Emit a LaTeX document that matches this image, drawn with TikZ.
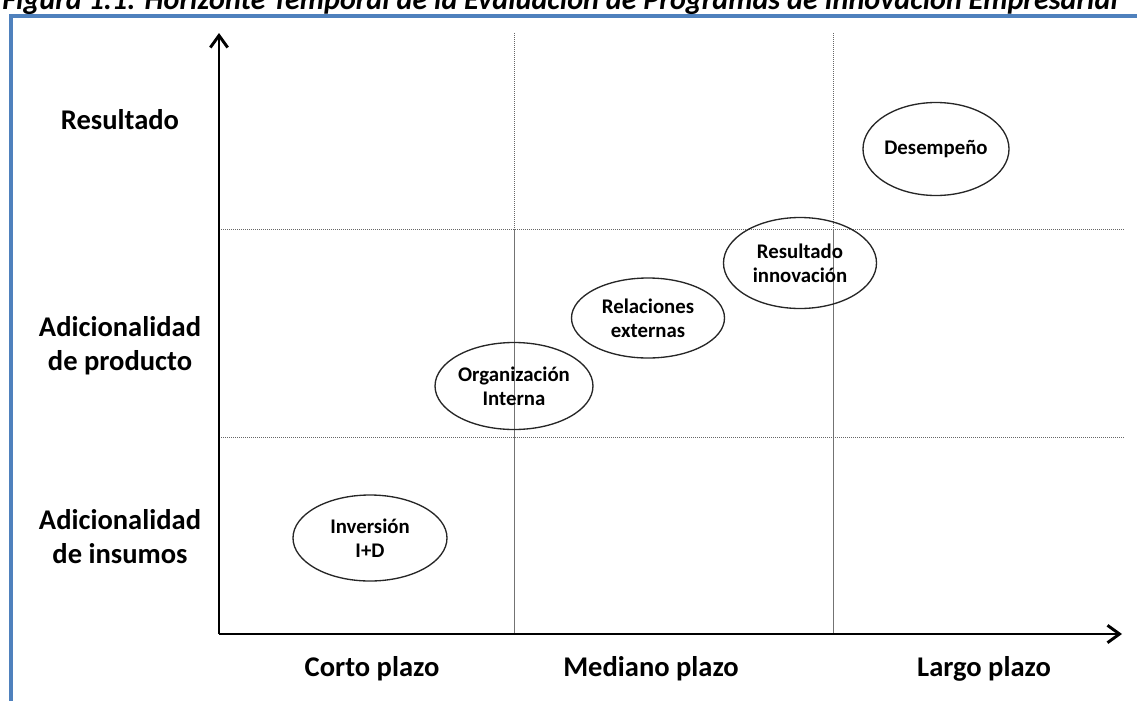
\documentclass[tikz,border=0pt]{standalone}
\usepackage{fontspec}
\setmainfont{Carlito}
\usetikzlibrary{arrows.meta,shapes.geometric}
\definecolor{marcoazul}{RGB}{79,129,189}
\tikzset{>=latex}
\tikzset{
  oval/.style = {draw = black!85, line width = 1pt, ellipse, inner sep = 0pt, align = center,
                 font = \fontsize{15.6}{18}\selectfont\bfseries},
  nivel/.style = {align = center, inner sep = 0pt, font = \fontsize{21.4}{25.5}\selectfont\bfseries},
  rejilla/.style = {line width = 0.75pt, black!55},
  punteada/.style = {line width = 0.75pt, black!60, dash pattern = on 0.75pt off 0.75pt},
  eje/.style = {line width = 2.2pt, -{Straight Barb[length = 9pt, width = 13pt]}}
}

\begin{document}
\begin{tikzpicture}[x = 0.75pt, y = -0.75pt]
\useasboundingbox (0,0) rectangle (1137,700);
% marco y titulo
\draw[line width = 3pt, marcoazul] (10.5,16) rectangle (1160,720);
\node[anchor = base west, inner sep = 0pt, font = \fontsize{22.6}{26}\selectfont\bfseries\itshape] (titulo) at (2,9)
  {Figura 1.1: Horizonte Temporal de la Evaluaci\'on de Programas de Innovaci\'on Empresarial};
% rejilla
\foreach \x in {514,833} {
  \draw[punteada] (\x,33) -- (\x,229);
  \draw[rejilla] (\x,229) -- (\x,634);
}
\foreach \y in {229,437}
  \draw[punteada] (219,\y) -- (1125,\y);
% ejes
\coordinate (origen) at (219,634);
\coordinate (ytope) at (219,33);
\coordinate (xfin) at (1122,634);
\draw[eje] (origen) -- (ytope);
\draw[eje] (origen) -- (xfin);
% niveles
\node[nivel] (labresultado) at (120,120) {Resultado};
\node[nivel] (labproducto) at (120,346) {Adicionalidad\\de producto};
\node[nivel] (labinsumos) at (120,537) {Adicionalidad\\de insumos};
% plazos
\node[nivel] (corto) at (372,669) {Corto plazo};
\node[nivel] (mediano) at (651,669) {Mediano plazo};
\node[nivel] (largo) at (984,669) {Largo plazo};
% elipses
\node[oval, minimum width = 115.5pt, minimum height = 64.5pt] (inversion) at (370,538) {Inversi\'on\\I+D};
\node[oval, minimum width = 114pt, minimum height = 65.25pt] (organizacion) at (514,386) {Organizaci\'on\\Interna};
\node[oval, minimum width = 114.75pt, minimum height = 60pt] (relaciones) at (648,318) {Relaciones\\externas};
\node[oval, minimum width = 114.75pt, minimum height = 68.25pt] (ovresultado) at (800,263) {Resultado\\innovaci\'on};
\node[oval, minimum width = 109.5pt, minimum height = 69.75pt] (desempeno) at (936,149) {Desempe\~no};
\end{tikzpicture}
\end{document}
